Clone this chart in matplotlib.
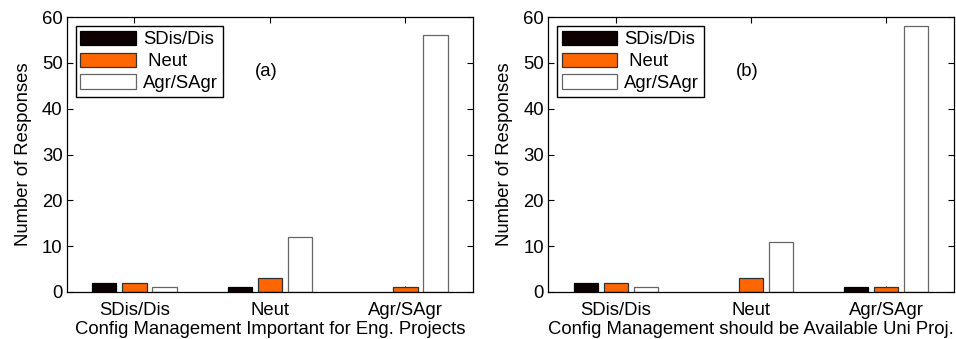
import matplotlib
matplotlib.use('Agg')
import matplotlib.pyplot as plt
import numpy as np

plt.rcParams['font.family'] = ['Liberation Sans', 'DejaVu Sans']

categories = ['SDis/Dis', 'Neut', 'Agr/SAgr']
legend_labels = ['SDis/Dis', ' Neut', 'Agr/SAgr']

# panel (a): responses per answer group, one list per series
a_sdis = [2, 1, 0]
a_neut = [2, 3, 1]
a_agr = [1, 12, 56]

# panel (b)
b_sdis = [2, 0, 1]
b_neut = [2, 3, 1]
b_agr = [1, 11, 58]

xlabels = ['Config Management Important for Eng. Projects',
           'Config Management should be Available Uni Proj.']
panel_tags = ['(a)', '(b)']

colors = ['#0d0000', '#ff6600', 'white']
edges = ['black', '#333333', '#666666']

FS = 13.3


def draw_panel(ax, series, xlabel, tag):
    x = np.arange(1, len(categories) + 1)
    offsets = [-0.222, 0.0, 0.222]
    handles = []
    for vals, off, c, ec in zip(series, offsets, colors, edges):
        h = ax.bar(x + off, vals, width=0.178, color=c, edgecolor=ec, linewidth=0.9)
        # MATLAB draws nothing for empty bars
        for p in h.patches:
            if p.get_height() == 0:
                p.set_visible(False)
        handles.append(h)
    ax.set_axisbelow(True)
    ax.set_xlim(0.5, 3.5)
    ax.set_ylim(0, 60)
    ax.set_xticks(x)
    ax.set_xticklabels(categories, fontsize=FS)
    ax.set_yticks(range(0, 61, 10))
    ax.tick_params(axis='y', labelsize=FS, pad=3)
    ax.tick_params(axis='x', pad=7)
    ax.tick_params(direction='in', top=True, right=True, length=4, width=0.8)
    for s in ax.spines.values():
        s.set_linewidth(0.9)
    ax.set_ylabel('Number of Responses', fontsize=FS, labelpad=7)
    ax.set_xlabel(xlabel, fontsize=FS, labelpad=2)
    ax.text(1.97, 48, tag, fontsize=FS, ha='center', va='center')
    leg = ax.legend(handles, legend_labels, loc='upper left', fontsize=FS,
                    fancybox=False, edgecolor='black', framealpha=1,
                    borderpad=0.25, handlelength=3.0, handleheight=0.85,
                    labelspacing=0.22, handletextpad=0.4, borderaxespad=0,
                    bbox_to_anchor=(0.022, 0.967))
    leg.get_frame().set_linewidth(1.0)


fig = plt.figure(figsize=(9.56, 3.39), dpi=100)
ax1 = fig.add_axes([66.7 / 956, 1 - 292 / 339, 406.5 / 956, 275 / 339])
ax2 = fig.add_axes([548 / 956, 1 - 292 / 339, 406 / 956, 275 / 339])

draw_panel(ax1, [a_sdis, a_neut, a_agr], xlabels[0], panel_tags[0])
draw_panel(ax2, [b_sdis, b_neut, b_agr], xlabels[1], panel_tags[1])

fig.savefig('out.png', dpi=100)
